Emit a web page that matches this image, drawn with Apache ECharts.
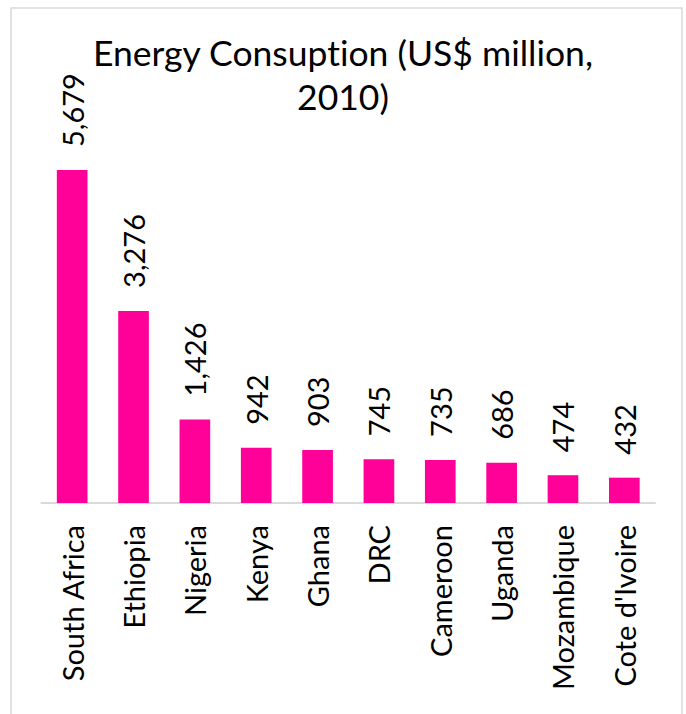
<!DOCTYPE html>
<html>
<head>
<meta charset="utf-8">
<script src="https://cdn.jsdelivr.net/npm/echarts@6/dist/echarts.min.js"></script>
<style>
html,body{margin:0;padding:0;background:#fff;}
#c{width:686px;height:714px;font-variant-ligatures:none;}
#c text{font-variant-ligatures:none !important;font-feature-settings:"liga" 0,"clig" 0 !important;}
</style>
</head>
<body>
<div id="c"></div>
<script>
const categories = ['South Africa','Ethiopia','Nigeria','Kenya','Ghana','DRC','Cameroon','Uganda','Mozambique',"Cote d'Ivoire"];
const values = [5679, 3276, 1426, 942, 903, 745, 735, 686, 474, 432];
const titleText = 'Energy Consuption (US$ million,\n2010)';

const FONT = 'Lato';
const chart = echarts.init(document.getElementById('c'), null, {renderer:'svg'});
chart.setOption({
  animation:false,
  backgroundColor:'#fff',
  graphic:[{
    type:'rect',
    shape:{x:11,y:8,width:671,height:730},
    style:{fill:'none',stroke:'#d9d9d9',lineWidth:1.5},
    silent:true
  }],
  title:{
    text:titleText,
    left:'center',
    top:25,
    textStyle:{fontFamily:FONT,fontSize:35.5,fontWeight:'normal',color:'#000',lineHeight:44}
  },
  grid:{left:41.5,right:31,top:151.2,bottom:211,containLabel:false},
  xAxis:{
    type:'category',
    data:categories,
    axisLine:{lineStyle:{color:'#d9d9d9',width:2}},
    axisTick:{show:false},
    axisLabel:{rotate:90,margin:22,fontFamily:FONT,fontSize:29,color:'#000',interval:0}
  },
  yAxis:{
    type:'value',
    min:0,max:6000,
    show:false,
    splitLine:{show:false}
  },
  series:[{
    type:'bar',
    data:values,
    barCategoryGap:'50%',
    itemStyle:{color:'#ff0099'},
    label:{
      show:true,
      position:'top',
      rotate:90,
      align:'left',
      verticalAlign:'middle',
      distance:23,
      fontFamily:FONT,
      fontSize:29,
      color:'#000',
      formatter:p=>p.value.toLocaleString('en-US')
    }
  }]
});
</script>
</body>
</html>
